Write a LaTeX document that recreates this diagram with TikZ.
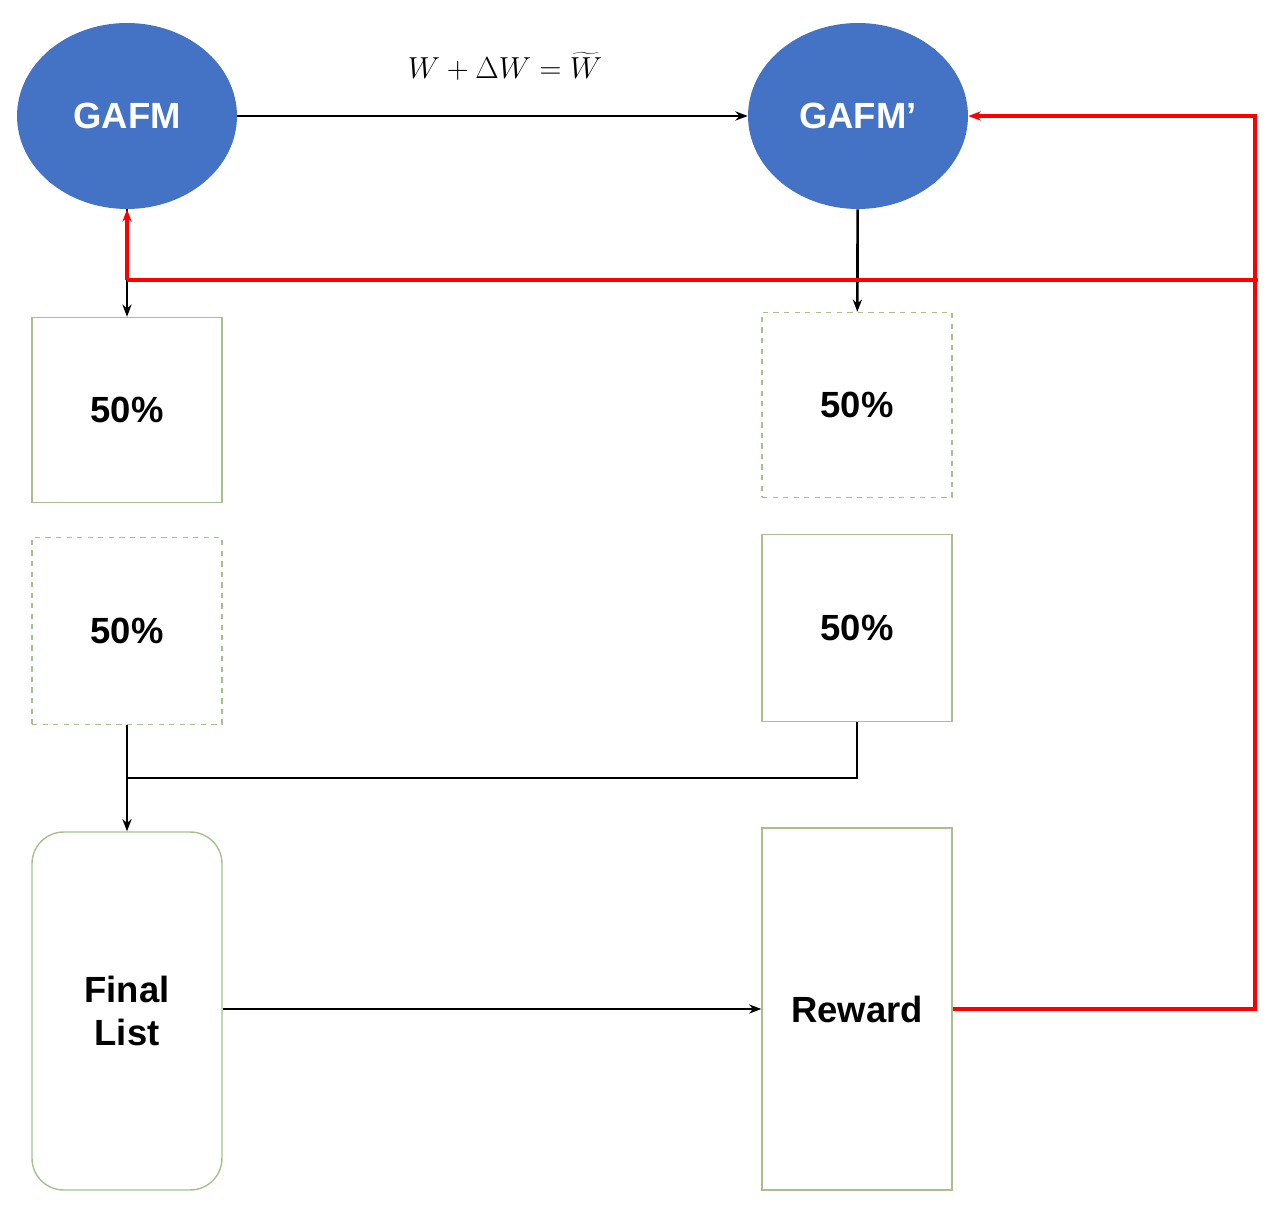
\documentclass[tikz,border=0pt]{standalone}
\usepackage{fontspec}
\setmainfont{Liberation Sans}
\usetikzlibrary{arrows.meta,shapes.geometric}
\definecolor{gblue}{HTML}{4472C4}
\definecolor{boxgreen}{HTML}{A9C08E}
\definecolor{fbred}{HTML}{FF0000}
\begin{document}
\begin{tikzpicture}[x=0.02cm,y=-0.02cm,
  model/.style={ellipse,fill=gblue,minimum width=4.4cm,minimum height=3.72cm,text=white,font=\bfseries\huge,inner sep=0pt},
  part/.style={draw=boxgreen,thick,minimum width=3.8cm,minimum height=3.7cm,font=\bfseries\huge,inner sep=0pt},
  hidden/.style={part,dashed},
  flow/.style={line width=1.5pt,-{Stealth[length=7pt]}},
  fb/.style={fbred,line width=1.8pt}]
\useasboundingbox (0,0) rectangle (1288,1222);
\node[model] (gafm) at (127,116) {GAFM};
\node[model] (gafmp) at (858,116) {GAFM’};
\node (upd) at (505,66) {\LARGE $W+\Delta W=\widetilde{W}$};
\node[part] (l1) at (127,410) {50\%};
\node[hidden,minimum height=3.74cm] (l2) at (127,631) {50\%};
\node[hidden] (r1) at (857,405) {50\%};
\node[part,minimum height=3.74cm] (r2) at (857,628) {50\%};
\node[part,rounded corners=18pt,minimum height=7.16cm,align=center] (final) at (127,1011) {Final\\List};
\node[part,minimum height=7.24cm] (reward) at (857,1009) {Reward};
\coordinate (join) at (127,778);
\coordinate (fbtop) at (1255,116);
\coordinate (fbbot) at (1255,1009);
\draw[flow] (gafm) -- (gafmp);
\draw[flow] (gafm) -- (l1);
\draw[flow] (gafmp) -- (r1);
\draw[flow] (l2) -- (final);
\draw[line width=1.5pt] (r2.south) |- (join);
\draw[flow] (final.east |- reward) -- (reward);
\draw[fb,-{Stealth[length=7pt]}] (reward.east) -- (fbbot) -- (fbtop) -- (gafmp.east);
\draw[fb] (1258,280) -- (127,280);
\draw[fb,-{Stealth[length=7pt]}] (127,280) -- (gafm.south);
\end{tikzpicture}
\end{document}
